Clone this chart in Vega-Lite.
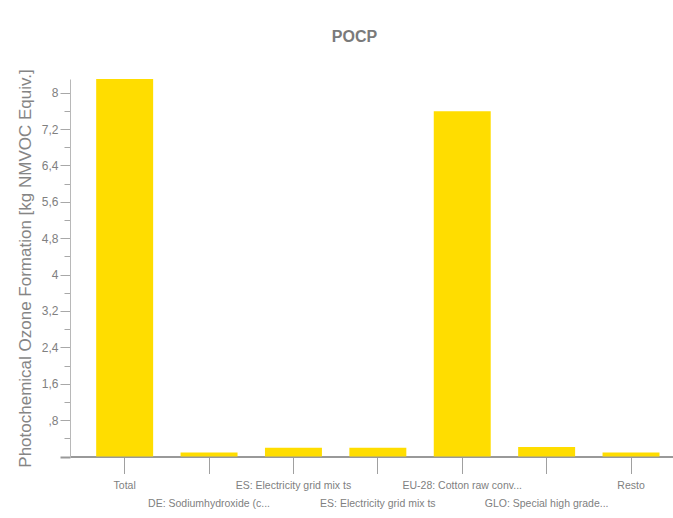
{
  "$schema": "https://vega.github.io/schema/vega-lite/v6.json",
  "autosize": {"type": "none"},
  "padding": {"left": 70, "top": 79, "right": 0, "bottom": 61},
  "width": 603,
  "height": 377.5,
  "background": "white",
  "title": {
    "text": "POCP",
    "font": "Liberation Sans",
    "fontSize": 16,
    "fontWeight": "bold",
    "color": "#7a7a7a",
    "anchor": "middle",
    "dx": -17,
    "dy": 9,
    "offset": 33
  },
  "data": {
    "values": [
      {"process": "Total", "value": 8.3},
      {"process": "DE: Sodiumhydroxide (c...", "value": 0.09},
      {"process": "ES: Electricity grid mix ts", "value": 0.19},
      {"process": "ES: Electricity grid mix ts ", "value": 0.19},
      {"process": "EU-28: Cotton raw conv...", "value": 7.59},
      {"process": "GLO: Special high grade...", "value": 0.21},
      {"process": "Resto", "value": 0.09}
    ]
  },
  "mark": {"type": "bar", "color": "#FFDD00"},
  "encoding": {
    "x": {
      "field": "process",
      "type": "nominal",
      "sort": null,
      "scale": {"paddingInner": 0.325, "paddingOuter": 0.235, "align": 0.66},
      "axis": {
        "title": null,
        "labelAngle": 0,
        "labelFont": "Liberation Sans",
        "labelFontSize": 10.5,
        "labelColor": "#808080",
        "labelBaseline": "top",
        "labelPadding": {"condition": {"test": "indexof(['DE: Sodiumhydroxide (c...', 'ES: Electricity grid mix ts ', 'GLO: Special high grade...'], datum.value) >= 0", "value": 25}, "value": 7},
        "labelOverlap": false,
        "labelLimit": 300,
        "tickSize": 17,
        "tickColor": "#a0a0a0",
        "tickWidth": 1,
        "domainColor": "#999999",
        "domainWidth": 2
      }
    },
    "y": {
      "field": "value",
      "type": "quantitative",
      "scale": {"domain": [0, 8.3], "nice": false, "zero": true},
      "axis": {
        "title": "Photochemical Ozone Formation [kg NMVOC Equiv.]",
        "titleFont": "Liberation Sans",
        "titleFontSize": 17,
        "titleFontWeight": "normal",
        "titleColor": "#858585",
        "titleX": -40,
        "titleY": 189,
        "titleAlign": "center",
        "titleBaseline": "alphabetic",
        "titleAngle": 270,
        "values": [0, 0.4, 0.8, 1.2, 1.6, 2.0, 2.4, 2.8, 3.2, 3.6, 4.0, 4.4, 4.8, 5.2, 5.6, 6.0, 6.4, 6.8, 7.2, 7.6, 8.0],
        "labelExpr": "(datum.value == 0 || round(datum.value * 10 / 4) % 2 == 1) ? '' : replace(replace(format(datum.value, '.1~f'), '.', ','), '0,', ',')",
        "labelFont": "Liberation Sans",
        "labelFontSize": 12,
        "labelColor": "#808080",
        "labelPadding": 2,
        "labelOverlap": false,
        "tickSize": {"condition": {"test": "datum.value != 0 && round(datum.value * 10 / 4) % 2 == 1", "value": 6}, "value": 10},
        "tickColor": {"condition": {"test": "datum.value == 0", "value": "#999999"}, "value": "#a8a8a8"},
        "tickWidth": {"condition": {"test": "datum.value == 0", "value": 2}, "value": 1},
        "domainColor": "#b8b8b8",
        "domainWidth": 1,
        "grid": false
      }
    }
  },
  "config": {"view": {"stroke": null}}
}
